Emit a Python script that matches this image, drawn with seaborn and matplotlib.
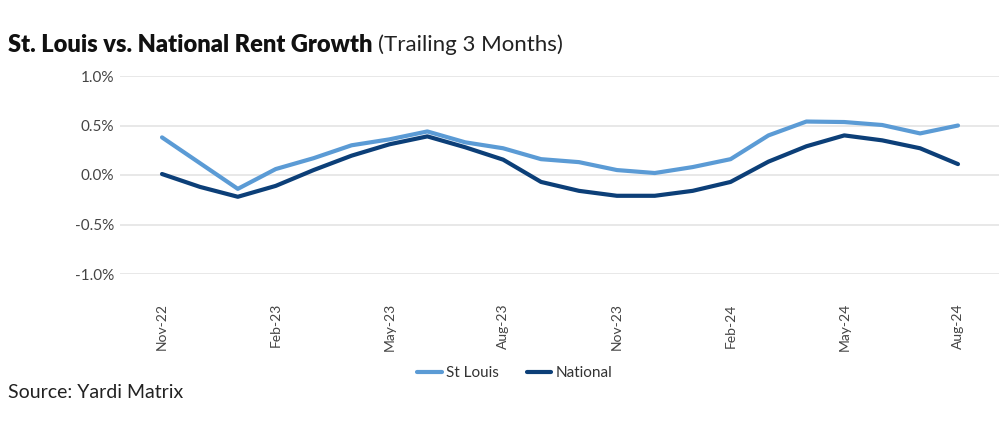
import matplotlib.pyplot as plt
import numpy as np
import pandas as pd
import seaborn as sns
from matplotlib.lines import Line2D

# %% data (trailing 3-month rent growth, %)
months = pd.date_range("2022-11-01", "2024-08-01", freq="MS")
st_louis = [0.38, 0.12, -0.14, 0.06, 0.17, 0.30, 0.36, 0.44, 0.33, 0.27, 0.16,
            0.13, 0.05, 0.02, 0.08, 0.16, 0.40, 0.54, 0.535, 0.505, 0.42, 0.50]
national = [0.01, -0.12, -0.22, -0.11, 0.05, 0.195, 0.31, 0.39, 0.28, 0.155, -0.07,
            -0.16, -0.21, -0.21, -0.16, -0.07, 0.135, 0.29, 0.40, 0.35, 0.27, 0.11]
tick_every = 3
colors = {"St Louis": "#5b9bd5", "National": "#0c3f78"}

df = pd.DataFrame({"idx": np.arange(len(months)), "St Louis": st_louis, "National": national})
long = df.melt(id_vars="idx", var_name="series", value_name="growth")

sns.set_style("white")
plt.rcParams["font.family"] = ["Lato", "DejaVu Sans"]

# %%
fig = plt.figure(figsize=(10.07, 4.33), dpi=100)
ax = fig.add_axes([120 / 1007, 1 - 274 / 433, (999 - 120) / 1007, (274 - 76) / 433])

sns.lineplot(data=long, x="idx", y="growth", hue="series", palette=colors,
             linewidth=3, ax=ax, legend=False)

ax.set_ylim(-1.0, 1.0)
yt = np.arange(-1.0, 1.01, 0.5)
ax.set_yticks(yt)
ax.set_yticklabels([f"{v:.1f}%" for v in yt])
ax.yaxis.grid(True, color="#e4e4e4", linewidth=1.2)
ax.set_axisbelow(True)

pad_l = (162 - 120) / 37.9
pad_r = (999 - 958) / 37.9
ax.set_xlim(-pad_l, len(months) - 1 + pad_r)
ticks = np.arange(0, len(months), tick_every)
ax.set_xticks(ticks)
ax.set_xticklabels([months[i].strftime("%b-%y") for i in ticks], rotation=90, va="top")

ax.tick_params(axis="y", length=0, labelsize=11, colors="#444444", pad=4)
ax.tick_params(axis="x", length=0, labelsize=10, colors="#444444", pad=21)
for s in ax.spines.values():
    s.set_visible(False)
ax.set_xlabel("")
ax.set_ylabel("")

handles = [Line2D([], [], color=c, lw=3) for c in colors.values()]
fig.legend(handles, list(colors), loc="center", bbox_to_anchor=(515 / 1007, 1 - 373 / 433),
           ncol=2, frameon=False, fontsize=11, handlelength=1.6, handletextpad=0.3,
           columnspacing=1.8, labelcolor="#333333")

title = fig.text(8 / 1007, 1 - 45 / 433, "St. Louis vs. National Rent Growth", fontsize=17,
                 fontweight="heavy", color="#111111", va="center", ha="left")
fig.canvas.draw()
bb = title.get_window_extent()
fig.text((bb.x1 + 6) / 1007, 1 - 45 / 433, "(Trailing 3 Months)", fontsize=16,
         color="#222222", va="center", ha="left")
fig.text(8 / 1007, 1 - 392 / 433, "Source: Yardi Matrix", fontsize=14, color="#222222",
         va="center", ha="left")

fig.savefig("out.png", dpi=100)
